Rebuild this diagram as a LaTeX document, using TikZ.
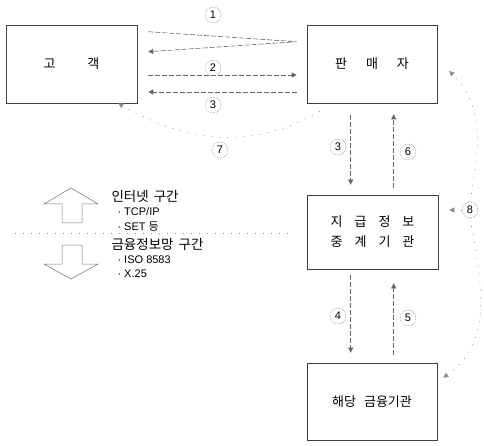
\documentclass[tikz,border=0pt]{standalone}
\usepackage{fontspec}
\setmainfont{Liberation Sans}
\newfontfamily\kfont{Noto Sans CJK KR}
\usetikzlibrary{arrows.meta}

\begin{document}
\begin{tikzpicture}[x=1pt,y=-1pt,font=\fontsize{11}{13}\selectfont,
  >={Triangle[length=5pt,width=5pt]},
  box/.style={draw=black!75,line width=0.6pt,minimum width=130pt,minimum height=78pt,
    inner sep=0pt,font=\fontsize{13}{20}\kfont},
  conn/.style={draw=black!60,line width=0.6pt,dash pattern=on 5pt off 2pt},
  faint/.style={draw=black!45,line width=0.6pt,dash pattern=on 1pt off 7pt},
  num/.style={circle,draw=black!55,densely dotted,line width=0.5pt,minimum size=16pt,
    inner sep=0pt,font=\fontsize{11}{11}\selectfont},
  hollow/.style={draw=black!55,line width=0.5pt},
  legk/.style={anchor=west,font=\fontsize{13.5}{15}\kfont},
  legl/.style={anchor=west}]
  \useasboundingbox (0,0) rectangle (484,446);

  \node[box,minimum width=131pt] (cust) at (71.5,64) {고\hspace{32pt}객};
  \node[box] (seller) at (372,64) {판\hspace{19pt}매\hspace{19pt}자};
  \node[box,minimum width=131pt,minimum height=74pt,align=center] (relay) at (372.5,232)
    {지\hspace{12pt}급\hspace{12pt}정\hspace{12pt}보\\중\hspace{12pt}계\hspace{12pt}기\hspace{12pt}관};
  \node[box,minimum height=77pt] (bank) at (372,401.5) {해당\hspace{8pt}금융기관};

  \node[num] (n1) at (213,15) {1};
  \node[num] (n2) at (213,68) {2};
  \node[num] (n3a) at (213,105) {3};
  \node[num] (n3b) at (338,147) {3};
  \node[num] (n6) at (408,152) {6};
  \node[num] (n4) at (338,316) {4};
  \node[num] (n5) at (408,318) {5};
  \node[num] (n7) at (220,150) {7};
  \node[num] (n8) at (470,210) {8};

  \draw[conn,->] ([xshift=11pt,yshift=-7pt]cust.north east)
    -- ([xshift=-10pt,yshift=-17pt]seller.north west)
    -- ([xshift=11pt,yshift=-27pt]cust.north east);
  \draw[conn,->] ([xshift=11pt,yshift=-11pt]cust.east) -- ([xshift=-10pt,yshift=-11pt]seller.west);
  \draw[conn,->] ([xshift=-10pt,yshift=-28pt]seller.west) -- ([xshift=11pt,yshift=-28pt]cust.east);

  \draw[conn,->] ([xshift=44pt,yshift=-12pt]seller.south west) -- ([xshift=44pt,yshift=10pt]relay.north west);
  \draw[conn,->] ([xshift=87pt,yshift=7pt]relay.north west) -- ([xshift=87pt,yshift=-11pt]seller.south west);
  \draw[conn,->] ([xshift=44pt,yshift=-6pt]relay.south west) -- ([xshift=44pt,yshift=10pt]bank.north west);
  \draw[conn,->] ([xshift=87pt,yshift=8pt]bank.north west) -- ([xshift=87pt,yshift=-14pt]relay.south west);

  \draw[faint,->] ([xshift=13pt,yshift=-8pt]seller.south west) to[out=-150,in=-30] ([xshift=-19pt]cust.south east);

  \draw[faint,->] (n8.north) to[out=80,in=-45] ([xshift=12pt,yshift=-7pt]seller.east);
  \draw[faint,->] (n8.west) -- ([xshift=11pt]relay.east |- n8.west);
  \draw[faint,->] (n8.south) to[out=-80,in=35] ([xshift=6pt,yshift=-15pt]bank.north east);

  \draw[hollow] (44,204) -- (71,188) -- (98,204) -- (82,204) -- (82,223) -- (62,223) -- (62,204) -- cycle;
  \draw[hollow] (62,245) -- (82,245) -- (82,264) -- (98,264) -- (71,279) -- (44,264) -- (62,264) -- cycle;
  \draw[faint] (15,233) -- (290,233);

  \node[legk] (inet) at (108,196) {인터넷\hspace{5pt}구간};
  \node[legl] (tcp) at (114,212) {· TCP/IP};
  \node[legl] (set) at (114,227) {· SET {\kfont 등}};
  \node[legk] (fin) at (108,244) {금융정보망\hspace{5pt}구간};
  \node[legl] (iso) at (114,260) {· ISO 8583};
  \node[legl] (x25) at (114,274) {· X.25};
\end{tikzpicture}
\end{document}
